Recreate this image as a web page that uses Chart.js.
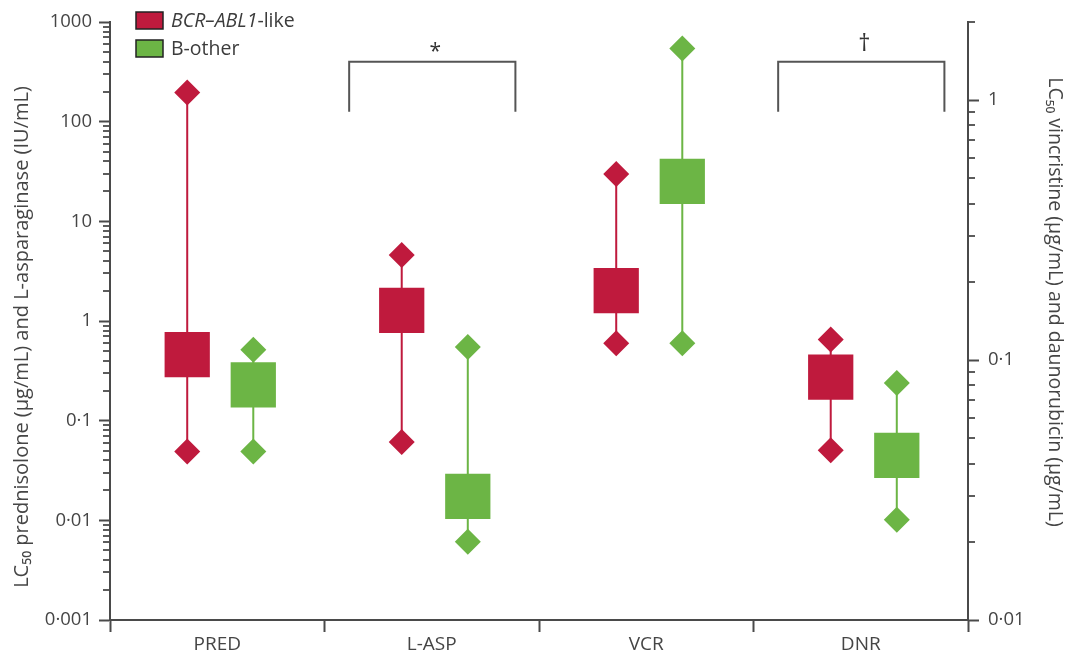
<!DOCTYPE html>
<html><head><meta charset="utf-8">
<script src="https://cdn.jsdelivr.net/npm/chart.js@4/dist/chart.umd.min.js"></script>
<style>html,body{margin:0;padding:0;background:#fff;} #wrap{width:1075px;height:660px;}</style>
</head><body><div id="wrap"><canvas id="c" width="1075" height="660"></canvas></div>
<script>
// ---- data ----
const categories = ['PRED', 'L-ASP', 'VCR', 'DNR'];
const categoryAxis = ['yl', 'yl', 'yr', 'yr'];
const seriesNames = ['BCR–ABL1-like', 'B-other'];
const bcrMin    = [0.049, 0.061, 0.116, 0.045];
const bcrMedian = [0.46, 1.28, 0.185, 0.086];
const bcrMax    = [196, 4.6, 0.52, 0.12];
const otherMin    = [0.049, 0.0061, 0.116, 0.0243];
const otherMedian = [0.229, 0.0174, 0.487, 0.043];
const otherMax    = [0.515, 0.55, 1.58, 0.0816];
const leftMajorTicks = [0.001, 0.01, 0.1, 1, 10, 100, 1000];
const leftTickLabels = ['0·001', '0·01', '0·1', '1', '10', '100', '1000'];
const rightMajorTicks = [0.01, 0.1, 1];
const rightTickLabels = ['0·01', '0·1', '1'];
const brackets = [{cat: 1, mark: '*'}, {cat: 3, mark: '†'}];
const leftTitle = 'LC₅₀ prednisolone (µg/mL) and L-asparaginase (IU/mL)';
const rightTitle = 'LC₅₀ vincristine (µg/mL) and daunorubicin (µg/mL)';

// ---- styles ----
const FONT = "'Open Sans', 'DejaVu Sans', sans-serif";
const TXT = '#454545';
const AX = '#4a4a4a';
const RED = '#BF1A3D';
const GREEN = '#6CB545';
const OFFSETS = [-0.14, 0.168];
const BR_LEFT = -0.385, BR_RIGHT = 0.39, BR_TOP = 400, BR_BOTTOM = 126;

const series = [
  {min: bcrMin, med: bcrMedian, max: bcrMax, color: RED},
  {min: otherMin, med: otherMedian, max: otherMax, color: GREEN}
];

const datasets = [];
series.forEach((s, si) => {
  ['yl', 'yr'].forEach(axisId => {
    const idx = categories.map((c, i) => i).filter(i => categoryAxis[i] === axisId);
    const whisk = [];
    idx.forEach(i => {
      const x = i + OFFSETS[si];
      whisk.push({x, y: s.min[i]}, {x, y: s.max[i]}, {x, y: null});
    });
    datasets.push({
      type: 'scatter', xAxisID: 'xl', yAxisID: axisId, order: 2,
      data: whisk, showLine: true, spanGaps: false,
      borderColor: s.color, borderWidth: 2,
      pointStyle: 'rectRot', pointRadius: 13, pointHoverRadius: 13,
      pointBackgroundColor: s.color, pointBorderWidth: 0
    });
    datasets.push({
      type: 'scatter', xAxisID: 'xl', yAxisID: axisId, order: 1,
      data: idx.map(i => ({x: i + OFFSETS[si], y: s.med[i]})),
      pointStyle: 'rect', pointRadius: 32, pointHoverRadius: 32,
      pointBackgroundColor: s.color, pointBorderWidth: 0
    });
  });
});

function buildLogTicks(min, max) {
  const out = [];
  for (let e = Math.floor(Math.log10(min)); e <= Math.ceil(Math.log10(max)); e++) {
    for (let m = 1; m <= 9; m++) {
      const v = Number((m * Math.pow(10, e)).toPrecision(6));
      if (v >= min * 0.999 && v <= max * 1.001) out.push(v);
    }
  }
  return out;
}
function isIn(v, arr) { return arr.some(t => Math.abs(t - v) / t < 1e-6); }

function yAxis(position, min, max, majors, labels, width, pad) {
  return {
    type: 'logarithmic', position, min, max,
    afterBuildTicks: sc => { sc.ticks = buildLogTicks(min, max).map(v => ({value: v, major: isIn(v, majors)})); },
    afterFit: sc => { sc.width = width; sc.paddingTop = 0; sc.paddingBottom = 0; },
    ticks: {
      autoSkip: false, color: TXT, padding: pad,
      font: {family: FONT, size: 18.5},
      callback: v => { const k = majors.findIndex(t => Math.abs(t - v) / t < 1e-6); return k >= 0 ? labels[k] : ''; }
    },
    grid: {
      display: true, drawOnChartArea: false, tickLength: 11, tickWidth: 2,
      tickColor: ctx => (ctx.tick && isIn(ctx.tick.value, majors)) ? AX : 'rgba(0,0,0,0)'
    },
    border: {display: true, color: AX, width: 2}
  };
}

const overlay = {
  id: 'overlay',
  afterDraw(chart) {
    const ctx = chart.ctx;
    ctx.save();
    // minor ticks
    ctx.strokeStyle = AX; ctx.lineWidth = 1.8;
    [['yl', leftMajorTicks, -1], ['yr', rightMajorTicks, 1]].forEach(([id, majors, dir]) => {
      const sc = chart.scales[id];
      const x0 = id === 'yl' ? chart.chartArea.left : chart.chartArea.right;
      sc.ticks.forEach(t => {
        if (isIn(t.value, majors)) return;
        const y = Math.round(sc.getPixelForValue(t.value));
        ctx.beginPath(); ctx.moveTo(x0, y); ctx.lineTo(x0 + dir * 7, y); ctx.stroke();
      });
    });
    // axis titles
    ctx.fillStyle = TXT; ctx.textAlign = 'center'; ctx.textBaseline = 'middle';
    ctx.font = `20px ${FONT}`;
    ctx.save(); ctx.translate(22, 337); ctx.rotate(-Math.PI / 2); ctx.fillText(leftTitle, 0, 0); ctx.restore();
    ctx.font = `19.5px ${FONT}`;
    ctx.save(); ctx.translate(1055, 302); ctx.rotate(Math.PI / 2); ctx.fillText(rightTitle, 0, 0); ctx.restore();
    // brackets
    const xs = chart.scales.xl, ys = chart.scales.yl;
    ctx.strokeStyle = '#555'; ctx.lineWidth = 2;
    brackets.forEach(b => {
      const xl = xs.getPixelForValue(b.cat + BR_LEFT), xr = xs.getPixelForValue(b.cat + BR_RIGHT);
      const yt = ys.getPixelForValue(BR_TOP), yb = ys.getPixelForValue(BR_BOTTOM);
      ctx.beginPath(); ctx.moveTo(xl, yb); ctx.lineTo(xl, yt); ctx.lineTo(xr, yt); ctx.lineTo(xr, yb); ctx.stroke();
      ctx.fillStyle = '#333'; ctx.textAlign = 'center'; ctx.textBaseline = 'alphabetic';
      if (b.mark === '*') { ctx.font = `21px ${FONT}`; ctx.fillText(b.mark, (xl + xr) / 2 + 3, yt - 4); }
      else { ctx.font = `24px ${FONT}`; ctx.fillText(b.mark, (xl + xr) / 2 + 3, yt - 11); }
    });
    // legend
    const lx = chart.chartArea.left + 26;
    const items = [{color: RED, y: 12}, {color: GREEN, y: 40}];
    items.forEach((it, k) => {
      ctx.fillStyle = it.color; ctx.fillRect(lx, it.y, 27, 17);
      ctx.strokeStyle = '#222'; ctx.lineWidth = 1.5; ctx.strokeRect(lx, it.y, 27, 17);
      ctx.fillStyle = '#3c3c3c'; ctx.textAlign = 'left'; ctx.textBaseline = 'middle';
      const ty = it.y + 9;
      if (k === 0) {
        const parts = seriesNames[0].split('-like');
        ctx.font = `italic 19.5px ${FONT}`;
        ctx.fillText(parts[0], lx + 35, ty);
        const w = ctx.measureText(parts[0]).width;
        ctx.font = `19.5px ${FONT}`;
        ctx.fillText('-like', lx + 35 + w, ty);
      } else {
        ctx.font = `19.5px ${FONT}`;
        ctx.fillText(seriesNames[1], lx + 35, ty);
      }
    });
    ctx.restore();
  }
};

new Chart(document.getElementById('c'), {
  data: {datasets},
  options: {
    responsive: false, animation: false, devicePixelRatio: 1,
    layout: {autoPadding: false, padding: {top: 22, left: 0, right: 0, bottom: 0}},
    plugins: {legend: {display: false}, tooltip: {enabled: false}},
    events: [],
    scales: {
      x: {
        type: 'category', labels: categories, offset: true, position: 'bottom',
        afterFit: sc => { sc.height = 40; sc.paddingLeft = 0; sc.paddingRight = 0; },
        grid: {offset: true, drawOnChartArea: false, tickLength: 12, tickWidth: 2, tickColor: AX},
        border: {display: true, color: AX, width: 2},
        ticks: {color: TXT, font: {family: FONT, size: 19}, padding: 1}
      },
      xl: {type: 'linear', display: false, min: -0.5, max: 3.5, position: 'bottom'},
      yl: yAxis('left', 0.001, 1000, leftMajorTicks, leftTickLabels, 110, 7),
      yr: yAxis('right', 0.01, 2, rightMajorTicks, rightTickLabels, 107, 9)
    }
  },
  plugins: [overlay]
});
</script>
</body></html>
